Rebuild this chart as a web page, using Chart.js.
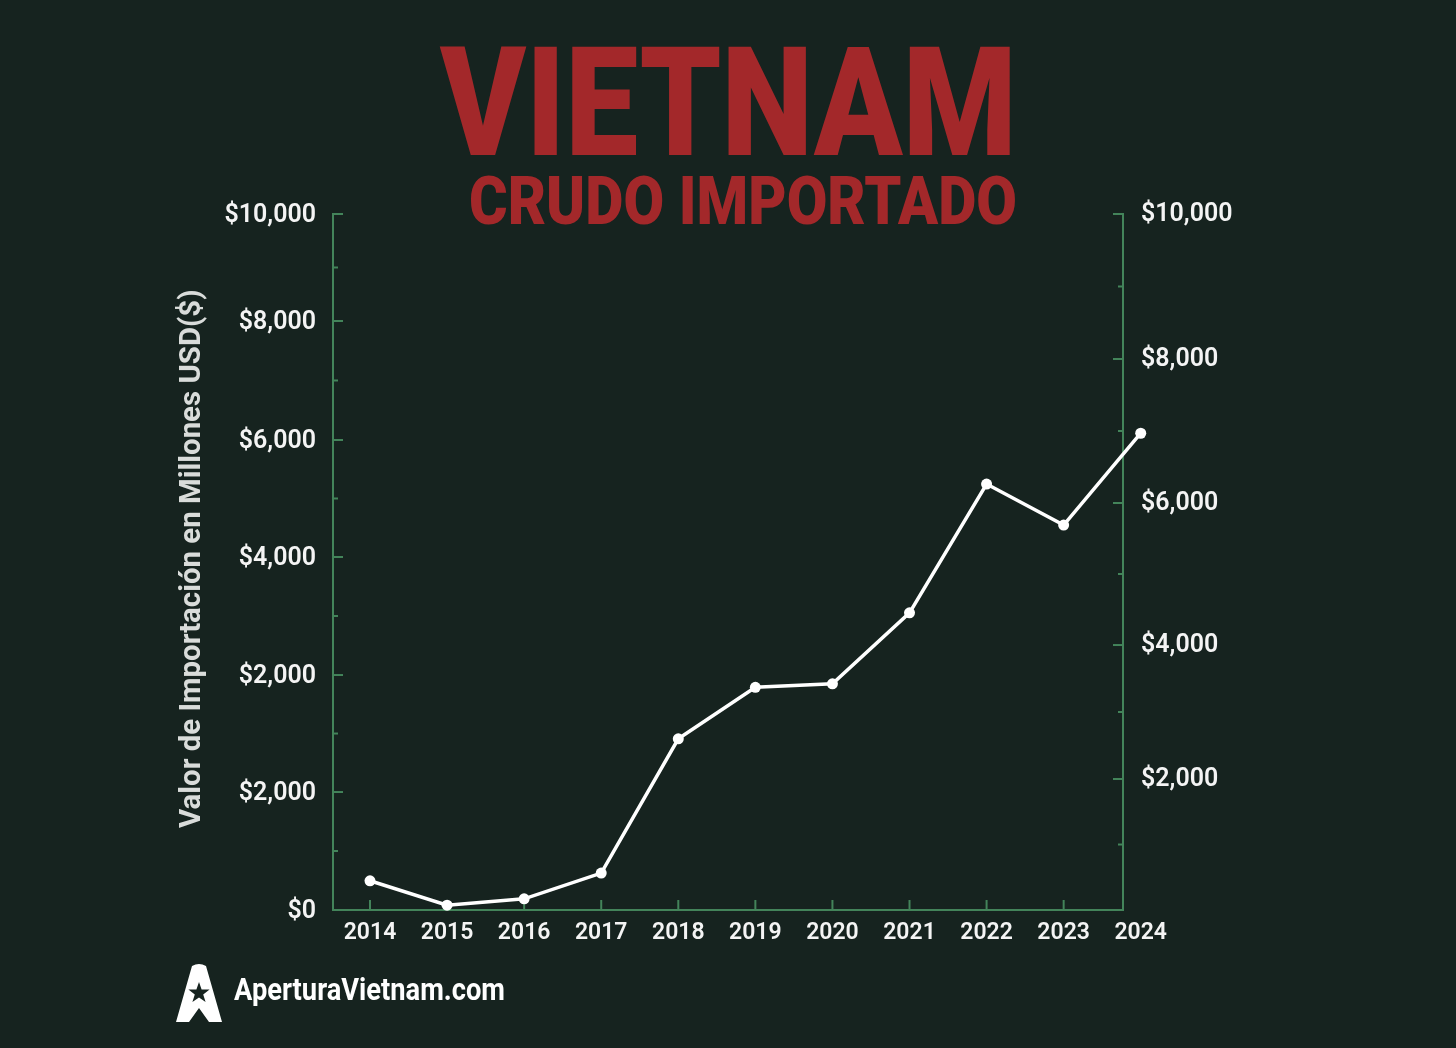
<!DOCTYPE html>
<html>
<head>
<meta charset="utf-8">
<script src="https://cdn.jsdelivr.net/npm/chart.js@4.4.0/dist/chart.umd.min.js"></script>
<style>
  html, body { margin: 0; padding: 0; background: #16231f; }
  #wrap { position: relative; width: 1456px; height: 1048px; overflow: hidden; background: #16231f; font-family: Roboto, sans-serif; }
  #chart { position: absolute; left: 0; top: 0; }
  .fit { position: absolute; left: 0; top: 0; white-space: nowrap; line-height: 1; transform-origin: 0 0; z-index: 2; }
  #title { font-size: 152px; font-weight: 900; color: #a3282a; }
  #subtitle { font-size: 67px; font-weight: 900; color: #a3282a; }
  #ytitle { font-size: 30px; font-weight: 700; color: #d9dcda; }
  #brand { font-size: 31px; font-weight: 700; color: #ffffff; }
  #logo { position: absolute; left: 176px; top: 964px; z-index: 2; }
</style>
</head>
<body>
<div id="wrap">
  <canvas id="chart" width="1456" height="1048"></canvas>
  <div id="title" class="fit">VIETNAM</div>
  <div id="subtitle" class="fit">CRUDO IMPORTADO</div>
  <div id="ytitle" class="fit">Valor de Importación en Millones USD($)</div>
  <svg id="logo" width="46" height="58" viewBox="0 0 46 58">
    <path d="M16 2 Q23 -2 30 2 L46 58 H33 L23 44 L13 58 H0 Z" fill="#ffffff"/>
    <polygon points="23,18 25.6,25.6 33.6,25.6 27.2,30.4 29.6,38 23,33.4 16.4,38 18.8,30.4 12.4,25.6 20.4,25.6" fill="#16231f"/>
  </svg>
  <div id="brand" class="fit">AperturaVietnam.com</div>
</div>
<script>
// data
const years = [2014, 2015, 2016, 2017, 2018, 2019, 2020, 2021, 2022, 2023, 2024];
const importValues = [420, 70, 160, 530, 2460, 3200, 3250, 4270, 6120, 5530, 6850];

// left axis: tick positions (in value units) and the labels printed at them
const leftTickValues = [0, 1695, 3376, 5072, 6753, 8463, 10000];
const leftTickLabels = ['$0', '$2,000', '$2,000', '$4,000', '$6,000', '$8,000', '$10,000'];
// right axis
const rightTickValues = [1882, 3807, 5848, 7917, 10000];
const rightTickLabels = ['$2,000', '$4,000', '$6,000', '$8,000', '$10,000'];

const AXIS_COLOR = '#43845a';
const TEXT_COLOR = '#f4f4f4';
const xTickFont = { family: 'Roboto', size: 23, weight: '600' };
const yTickFont = { family: 'Roboto', size: 25, weight: '600' };

// stretch/squeeze a text block so it spans a given width
function fitText(id, left, top, width, rotate) {
    const el = document.getElementById(id);
    const s = width / el.offsetWidth;
    if (rotate) {
        el.style.transform = `translate(${left}px, ${top}px) rotate(-90deg) scaleX(${s})`;
    } else {
        el.style.transform = `translate(${left}px, ${top}px) scaleX(${s})`;
    }
}

// small tick marks drawn inward from the axis lines
const axisTicks = {
    id: 'axisTicks',
    beforeDatasetsDraw(chart) {
        const { ctx, chartArea, scales } = chart;
        ctx.save();
        ctx.strokeStyle = AXIS_COLOR;
        ctx.lineWidth = 2;
        const mark = (x1, y1, x2, y2) => {
            ctx.beginPath();
            ctx.moveTo(x1, y1);
            ctx.lineTo(x2, y2);
            ctx.stroke();
        };
        const yMarks = (scale, vals, x, dir) => {
            let prev = 0;
            vals.forEach(v => {
                const mid = scale.getPixelForValue((v + prev) / 2);
                mark(x, mid, x + dir * 5, mid);
                const y = scale.getPixelForValue(v);
                mark(x, y, x + dir * 10, y);
                prev = v;
            });
        };
        yMarks(scales.y, leftTickValues.slice(1), chartArea.left, 1);
        yMarks(scales.y2, rightTickValues, chartArea.right, -1);
        years.forEach(yr => {
            const x = scales.x.getPixelForValue(yr);
            if (x <= chartArea.right) mark(x, chartArea.bottom, x, chartArea.bottom - 10);
        });
        ctx.restore();

        // the last year sits past the right axis line: let its point be drawn
        chart._savedRight = chartArea.right;
        chartArea.right = chart.width;
    },
    afterDatasetsDraw(chart) {
        chart.chartArea.right = chart._savedRight;
    }
};

document.addEventListener('DOMContentLoaded', () => {
    fitText('title', 440, 27, 577);
    fitText('subtitle', 469, 168, 548);
    fitText('ytitle', 175, 828, 538, true);
    fitText('brand', 234, 974, 271);

    const ctx = document.getElementById('chart').getContext('2d');
    new Chart(ctx, {
        type: 'line',
        data: {
            datasets: [{
                data: years.map((yr, i) => ({ x: yr, y: importValues[i] })),
                borderColor: '#ffffff',
                backgroundColor: '#ffffff',
                borderWidth: 3.5,
                pointRadius: 5.5,
                pointBorderWidth: 0,
                pointBackgroundColor: '#ffffff',
                tension: 0,
                clip: false,
                yAxisID: 'y'
            }]
        },
        options: {
            responsive: false,
            animation: false,
            layout: { padding: { top: 214, left: 0, right: 0, bottom: 0 } },
            plugins: {
                legend: { display: false },
                tooltip: { enabled: false }
            },
            scales: {
                x: {
                    type: 'linear',
                    min: 2013.52,
                    max: 2023.77,
                    bounds: 'data',
                    afterBuildTicks: (scale) => { scale.ticks = years.map(v => ({ value: v })); },
                    afterFit: (scale) => { scale.height = 138; },
                    grid: { display: false, drawTicks: false },
                    border: { display: true, color: AXIS_COLOR, width: 2 },
                    ticks: {
                        color: TEXT_COLOR,
                        font: xTickFont,
                        padding: 9,
                        autoSkip: false,
                        maxRotation: 0,
                        callback: (value) => String(value)
                    }
                },
                y: {
                    type: 'linear',
                    position: 'left',
                    min: 0,
                    max: 10000,
                    bounds: 'data',
                    afterBuildTicks: (scale) => { scale.ticks = leftTickValues.map(v => ({ value: v })); },
                    afterFit: (scale) => { scale.width = 333; },
                    grid: { display: false, drawTicks: false },
                    border: { display: true, color: AXIS_COLOR, width: 2 },
                    ticks: {
                        color: TEXT_COLOR,
                        font: yTickFont,
                        padding: 17,
                        labelOffset: 2,
                        autoSkip: false,
                        callback: (value, index) => leftTickLabels[index]
                    }
                },
                y2: {
                    type: 'linear',
                    position: 'right',
                    min: 0,
                    max: 10000,
                    bounds: 'data',
                    afterBuildTicks: (scale) => { scale.ticks = rightTickValues.map(v => ({ value: v })); },
                    afterFit: (scale) => { scale.width = 333; },
                    grid: { display: false, drawTicks: false },
                    border: { display: true, color: AXIS_COLOR, width: 2 },
                    ticks: {
                        color: TEXT_COLOR,
                        font: yTickFont,
                        padding: 18,
                        labelOffset: 1,
                        autoSkip: false,
                        callback: (value, index) => rightTickLabels[index]
                    }
                }
            }
        },
        plugins: [axisTicks]
    });
});
</script>
</body>
</html>
